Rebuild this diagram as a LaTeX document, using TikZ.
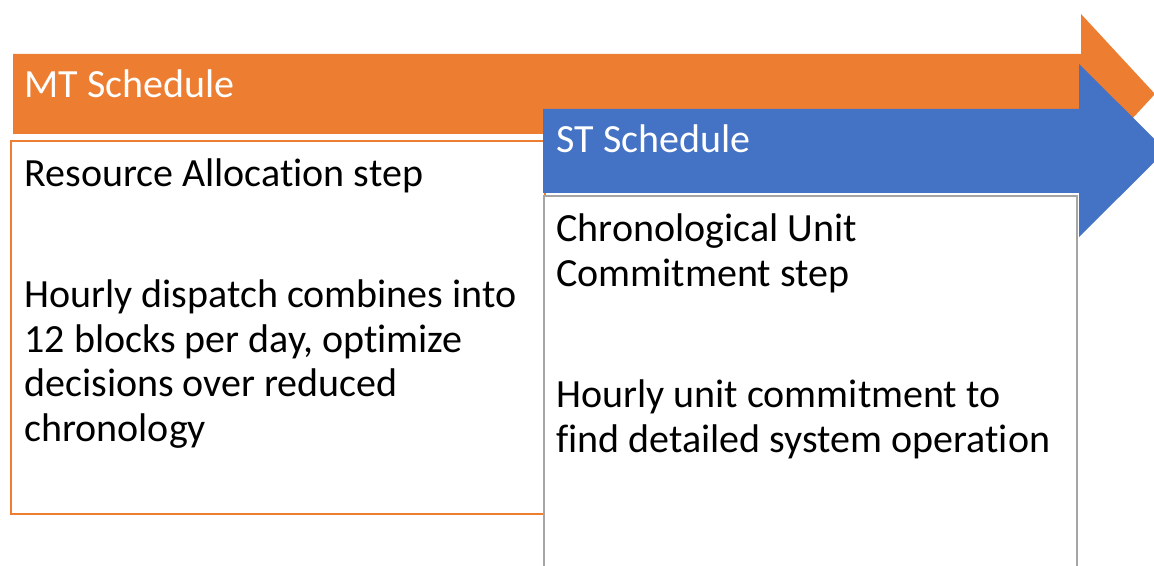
\documentclass[tikz,border=0pt]{standalone}
\usepackage{fontspec}
\setmainfont[Ligatures=CommonOff]{Carlito}
\usetikzlibrary{positioning}

\definecolor{mtorange}{HTML}{ED7D31}
\definecolor{stblue}{HTML}{4472C4}
\definecolor{boxgray}{HTML}{A5A5A5}

\tikzset{
    title/.style={anchor=base west, inner sep=0pt, text=white, font=\fontsize{20}{22.25}\selectfont},
    body/.style={anchor=base west, inner sep=0pt, align=left, font=\fontsize{20}{22.25}\selectfont}
}

\begin{document}
\begin{tikzpicture}[x=0.5pt, y=-0.5pt]
    \clip (0,0) rectangle (1154,566);

    % Define the corners of the MT arrow
    \coordinate (M1) at (13,54);
    \coordinate (M2) at (1081,54);
    \coordinate (M3) at (1081,14);
    \coordinate (M4) at (1155,94);
    \coordinate (M5) at (1081,174);
    \coordinate (M6) at (1081,134);
    \coordinate (M7) at (13,134);

    % Define the corners of the ST arrow
    \coordinate (S1) at (543,109);
    \coordinate (S2) at (1079,109);
    \coordinate (S3) at (1079,64);
    \coordinate (S4) at (1166,150.5);
    \coordinate (S5) at (1079,237);
    \coordinate (S6) at (1079,193);
    \coordinate (S7) at (543,193);

    % Draw the MT arrow and its box
    \fill[mtorange] (M1) -- (M2) -- (M3) -- (M4) -- (M5) -- (M6) -- (M7) -- cycle;
    \draw[mtorange, line width=1pt] (11,141) rectangle (545,514);

    % Draw the ST arrow and its box
    \fill[stblue] (S1) -- (S2) -- (S3) -- (S4) -- (S5) -- (S6) -- (S7) -- cycle;
    \draw[boxgray, line width=1pt, fill=white] (544,196) rectangle (1077,600);

    % Place the titles and texts (base is the last line)
    \node (mtTitle) at (24,98) [title] {MT Schedule};
    \node (stTitle) at (556,153) [title] {ST Schedule};
    \node (mtStep) at (24,187) [body] {Resource Allocation step};
    \node (mtText) at (24,441) [body] {Hourly dispatch combines into\\12 blocks per day, optimize\\decisions over reduced\\chronology};
    \node (stStep) at (556,286) [body] {Chronological Unit\\Commitment step};
    \node (stText) at (556,452) [body] {Hourly unit commitment to\\find detailed system operation};

\end{tikzpicture}
\end{document}
